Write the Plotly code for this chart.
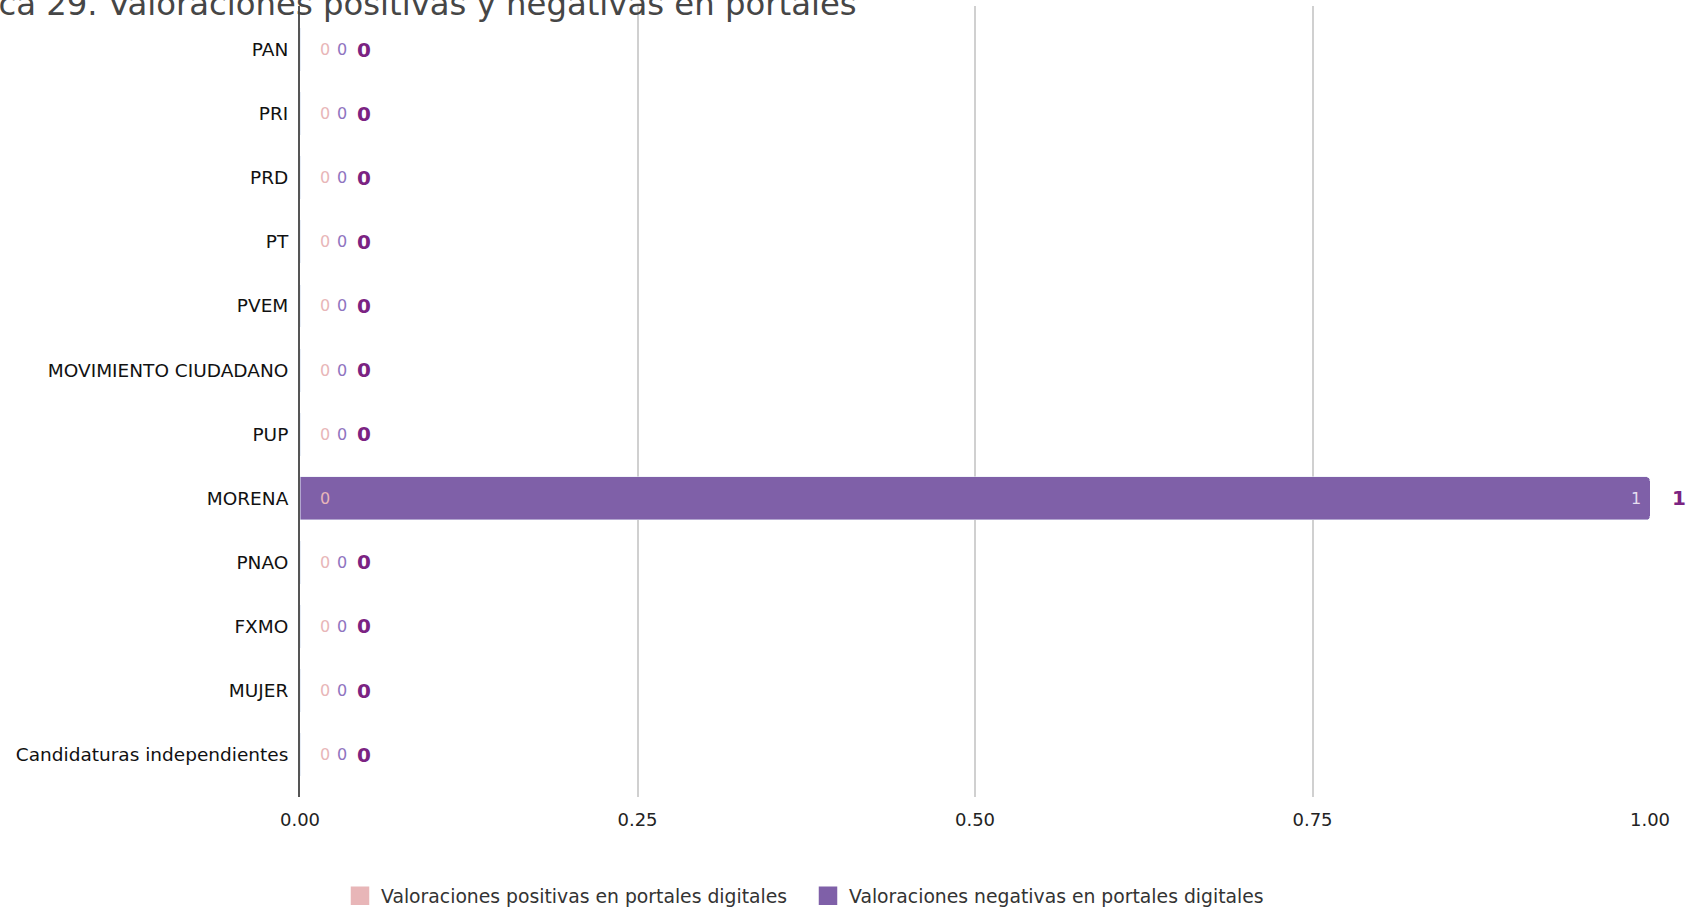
import plotly.graph_objects as go

categories = ["PAN", "PRI", "PRD", "PT", "PVEM", "MOVIMIENTO CIUDADANO", "PUP",
              "MORENA", "PNAO", "FXMO", "MUJER", "Candidaturas independientes"]
positivas = [0, 0, 0, 0, 0, 0, 0, 0, 0, 0, 0, 0]
negativas = [0, 0, 0, 0, 0, 0, 0, 1, 0, 0, 0, 0]
x_ticks = [0, 0.25, 0.5, 0.75, 1.0]
x_tick_labels = ["0.00", "0.25", "0.50", "0.75", "1.00"]
title_text = "Gráfica 29. Valoraciones positivas y negativas en portales"
name_pos = "Valoraciones positivas en portales digitales"
name_neg = "Valoraciones negativas en portales digitales"

PINK = "#e8b6b8"
PURPLE = "#7f60a8"
DARK = "#7b2382"
FONT = "DejaVu Sans"

W, H = 1693, 910
L, R, T, B = 300, 43, 6, 113
PW = W - L - R
PH = H - T - B

fig = go.Figure()
fig.add_trace(go.Bar(y=categories, x=positivas, orientation="h", name=name_pos,
                     marker=dict(color=PINK), hoverinfo="x+y", showlegend=False))
fig.add_trace(go.Bar(y=categories, x=negativas, orientation="h", name=name_neg,
                     marker=dict(color=PURPLE), hoverinfo="x+y", showlegend=False))
# legend entries with larger square swatches
fig.add_trace(go.Scatter(x=[None], y=[None], mode="markers", name=name_pos,
                         marker=dict(symbol="square", size=16, color=PINK,
                                     line=dict(width=2.5, color=PINK))))
fig.add_trace(go.Scatter(x=[None], y=[None], mode="markers", name=name_neg,
                         marker=dict(symbol="square", size=16, color=PURPLE,
                                     line=dict(width=2.5, color=PURPLE))))

ann = []
for c, p, n in zip(categories, positivas, negativas):
    tot = p + n
    ann.append(dict(x=0, y=c, xref="x", yref="y", text=str(p), showarrow=False,
                    xshift=25, font=dict(family=FONT, size=16, color=PINK)))
    if n > 0:
        ann.append(dict(x=p + n, y=c, xref="x", yref="y", text=str(n), showarrow=False,
                        xshift=-14, font=dict(family=FONT, size=16, color="#e6def0")))
        ann.append(dict(x=tot, y=c, xref="x", yref="y", text="<b>%d</b>" % tot, showarrow=False,
                        xshift=29, font=dict(family=FONT, size=20, color=DARK)))
    else:
        ann.append(dict(x=p, y=c, xref="x", yref="y", text=str(n), showarrow=False,
                        xshift=42, font=dict(family=FONT, size=16, color="#8f74c0")))
        ann.append(dict(x=tot, y=c, xref="x", yref="y", text="<b>%d</b>" % tot, showarrow=False,
                        xshift=64, font=dict(family=FONT, size=20, color=DARK)))

ann.append(dict(x=(859 - L) / PW, y=1, xref="paper", yref="paper",
                xanchor="right", yanchor="middle", yshift=2, text=title_text,
                showarrow=False, font=dict(family=FONT, size=32.3, color="#464646")))

fig.update_layout(
    width=W, height=H,
    barmode="stack", bargap=0.33, barcornerradius=4,
    paper_bgcolor="white", plot_bgcolor="white",
    margin=dict(l=L, r=R, t=T, b=B, autoexpand=False),
    font=dict(family=FONT, size=18, color="#222"),
    annotations=ann,
    showlegend=True,
    legend=dict(orientation="h", x=(339 - L) / PW, xanchor="left",
                y=-(B - (H - 896)) / PH, yanchor="middle",
                font=dict(family=FONT, size=18.8, color="#333"),
                itemsizing="trace", traceorder="normal", itemwidth=32,
                entrywidth=421, entrywidthmode="pixels"),
    xaxis=dict(range=[0, 1], tickvals=x_ticks, ticktext=x_tick_labels, automargin=False,
               showgrid=True, gridcolor="#d0d0d0", gridwidth=1.5, zeroline=False,
               showline=False, ticks="", ticklabelstandoff=10,
               tickfont=dict(family=FONT, size=18, color="#222")),
    yaxis=dict(categoryorder="array", categoryarray=categories, automargin=False,
               range=[11.66, -0.68], showgrid=False, zeroline=False,
               showline=True, linecolor="#555", linewidth=2, ticks="",
               ticklabelstandoff=6, tickfont=dict(family=FONT, size=18.5, color="#111")),
)
fig.write_html("out.html", config={"displayModeBar": False},
               post_script="document.body.style.margin='0';")
